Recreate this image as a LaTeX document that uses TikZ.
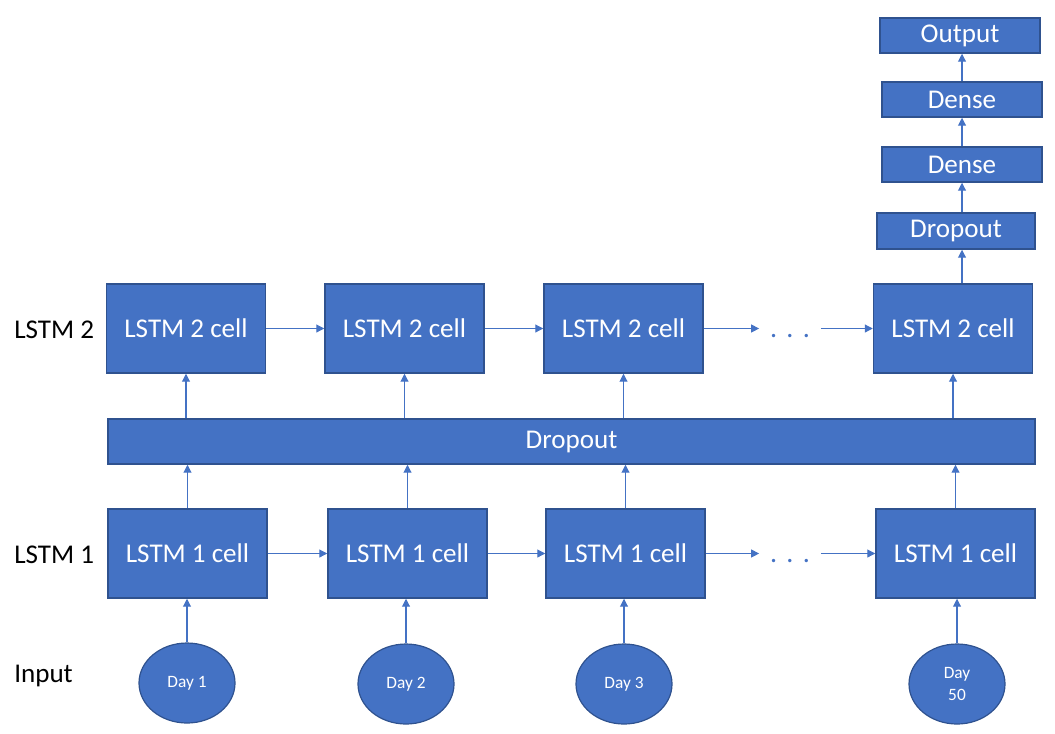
\documentclass[tikz,border=0pt]{standalone}
\usepackage{fontspec}
\setmainfont{Carlito}
\usetikzlibrary{arrows.meta,shapes.geometric}
\definecolor{fillblue}{HTML}{4472C4}
\definecolor{edgeblue}{HTML}{2F528F}
\begin{document}
\begin{tikzpicture}[x=0.75pt,y=-0.75pt,
 bx/.style={draw=edgeblue, fill=fillblue, line width=1.1pt, text=white, font=\fontsize{20.3}{24}\selectfont, inner sep=0pt},
 cell/.style={bx, minimum width=119.25pt, minimum height=66.75pt},
 small/.style={bx, minimum width=120pt, minimum height=26.25pt},
 day/.style={ellipse, draw=edgeblue, fill=fillblue, line width=0.9pt, text=white, font=\fontsize{13}{17}\selectfont, minimum width=72pt, minimum height=60pt, inner sep=0pt, align=center},
 lbl/.style={anchor=west, font=\fontsize{20.3}{24}\selectfont, inner sep=0pt},
 dots/.style={text=fillblue, font=\fontsize{21}{24}\selectfont, inner xsep=8pt, inner ysep=0pt},
 arr/.style={draw=fillblue, line width=0.8pt, -{Triangle[length=6pt,width=6pt]}}
]
\useasboundingbox (0,0) rectangle (1055,733);

% labels
\node[lbl] (l2) at (14,330) {LSTM 2};
\node[lbl] (l1) at (14,555) {LSTM 1};
\node[lbl] (lin) at (14,676) {Input};

% LSTM 2 row
\node[cell] (c21) at (186,328.5) {LSTM 2 cell};
\node[cell] (c22) at (404.5,328.5) {LSTM 2 cell};
\node[cell] (c23) at (623.5,328.5) {LSTM 2 cell};
\node[cell] (c24) at (953,328.5) {LSTM 2 cell};
\node[dots] (d2dots) at (790,328.5) {\vphantom{L}.\,\,.\,\,.};

% Dropout wide
\node[bx, minimum width=695.25pt, minimum height=33.75pt] (drop) at (571.5,441.5) {Dropout};

% LSTM 1 row
\node[cell] (c11) at (187.5,553.5) {LSTM 1 cell};
\node[cell] (c12) at (407.5,553.5) {LSTM 1 cell};
\node[cell] (c13) at (625.5,553.5) {LSTM 1 cell};
\node[cell] (c14) at (955.5,553.5) {LSTM 1 cell};
\node[dots] (d1dots) at (790,553.5) {\vphantom{L}.\,\,.\,\,.};

% inputs
\node[day] (e1) at (187,683) {Day 1};
\node[day] (e2) at (406,684) {Day 2};
\node[day] (e3) at (624,684) {Day 3};
\node[day] (e4) at (957,684) {Day\\50};

% top stack
\node[bx, minimum width=118.5pt, minimum height=27pt] (tdrop) at (956,231) {Dropout};
\node[small] (dn1) at (962,164.5) {Dense};
\node[small] (dn2) at (962,99.5) {Dense};
\node[small] (out) at (960,35.5) {Output};

% horizontal arrows
\draw[arr] (c21.east) -- (c22.west);
\draw[arr] (c22.east) -- (c23.west);
\draw[arr] (c23.east) -- (d2dots.west);
\draw[arr] (d2dots.east) -- (c24.west);
\draw[arr] (c11.east) -- (c12.west);
\draw[arr] (c12.east) -- (c13.west);
\draw[arr] (c13.east) -- (d1dots.west);
\draw[arr] (d1dots.east) -- (c14.west);

% input arrows
\foreach \e/\c in {e1/c11,e2/c12,e3/c13,e4/c14}
  \draw[arr] (\e.north) -- (\e.north |- \c.south);

% row1 -> dropout
\foreach \c in {c11,c12,c13,c14}
  \draw[arr] (\c.north) -- (\c.north |- drop.south);

% dropout -> row2
\foreach \c in {c21,c22,c23,c24}
  \draw[arr] (\c.south |- drop.north) -- (\c.south);

% top stack arrows
\draw[arr] (c24.north -| dn1) -- (tdrop.south -| dn1);
\draw[arr] (tdrop.north -| dn1) -- (dn1.south);
\draw[arr] (dn1.north) -- (dn2.south);
\draw[arr] (dn2.north) -- (out.south -| dn2);
\end{tikzpicture}
\end{document}
